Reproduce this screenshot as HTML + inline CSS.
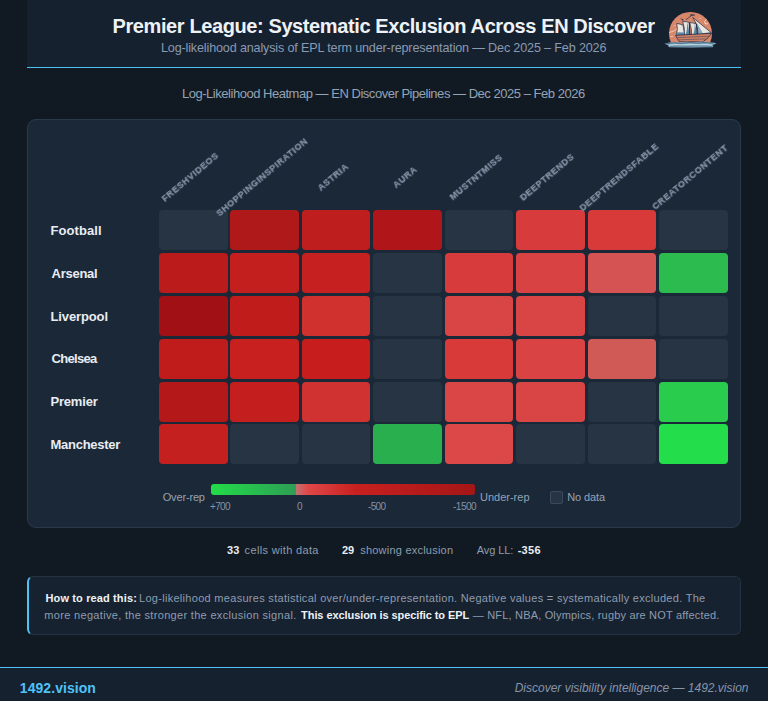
<!DOCTYPE html>
<html><head><meta charset="utf-8">
<style>
*{margin:0;padding:0;box-sizing:border-box}
html,body{width:768px;height:701px;overflow:hidden;background:#111a22;font-family:"Liberation Sans",sans-serif}
.t{position:absolute;white-space:nowrap;line-height:20px}
#hdr{position:absolute;left:27px;top:0;width:714px;height:68px;background:#162130;border-bottom:1.5px solid #4fc3f7}
#card{position:absolute;left:27px;top:119px;width:714px;height:409px;background:#1b2838;border:1px solid #2a394b;border-radius:9px}
.cl{position:absolute;width:200px;height:14px;line-height:14px;text-align:center;color:#8694a8;font-weight:bold;font-size:9px;letter-spacing:0.6px;transform:rotate(-40deg);white-space:nowrap;will-change:transform;-webkit-text-stroke:0.25px #8694a8}
.cell{position:absolute;height:40px;border-radius:4px}
#bar{position:absolute;left:211px;top:484px;width:264px;height:11px;border-radius:3px;background:linear-gradient(to right,#22dd48 0%,#2e9e55 32.1%,#c07474 32.1%,#e04848 36.5%,#c82020 55%,#a51616 100%)}
#chk{position:absolute;left:550px;top:491px;width:12.5px;height:12.5px;border-radius:2px;background:#263444;border:1px solid #3a4a5c}
#info{position:absolute;left:27px;top:576px;width:714px;height:59px;background:#172231;border:1px solid #243244;border-left:2px solid #4fc3f7;border-radius:6px}
#ftr{position:absolute;left:0;top:667px;width:768px;height:34px;background:#162130;border-top:1.5px solid #4fc3f7}
</style></head><body>
<div id="hdr"></div>
<div id="logo" style="position:absolute;left:662px;top:8px;width:56px;height:44px"><svg width="56" height="44" viewBox="0 0 56 44">
<defs><clipPath id="cc"><rect x="0" y="0" width="56" height="35"/></clipPath></defs>
<circle cx="28.5" cy="25.4" r="21.5" fill="#d8876b" clip-path="url(#cc)"/>
<path d="M7 24.5 L12 23 L15.5 20.5" stroke="#f0d8cc" stroke-width="0.8" fill="none"/>
<path d="M44.5 11.5 Q41.5 13 43 15.5 Q44.5 16.5 46 15.5" stroke="#f3e2d8" stroke-width="0.9" fill="none"/>
<circle cx="38" cy="10.3" r="0.55" fill="#f3e2d8"/>
<circle cx="13" cy="17.5" r="0.55" fill="#f3e2d8"/>
<path d="M8.5 28.5 L11 28.5" stroke="#f0d8cc" stroke-width="0.8"/>
<path d="M28 6.3 L32.8 6.5 L32.5 7.7 L28.3 7.6Z" fill="#2a3550"/>
<path d="M23.8 11.8 L30 7.2" stroke="#1e2a40" stroke-width="0.7"/>
<path d="M18 10.3 L21.6 11.4 L21 12.8 Z" fill="#1e2d48"/>
<path d="M14.8 15.4 Q18.5 16 21 17.2 L22.8 27.4 L14.3 27 Q16.2 21 14.8 15.4Z" fill="#e8e5de" stroke="#1e2d48" stroke-width="0.7"/>
<path d="M15.3 24.3 L22.3 24.5 L22.8 27.4 L14.3 27Z" fill="#5f8aa8"/>
<path d="M20.7 13.4 Q24.5 13.6 27.3 14.4 L27.8 28.2 L22.5 27.8 Q23 20 20.7 13.4Z" fill="#e8e5de" stroke="#1e2d48" stroke-width="0.7"/>
<path d="M25.3 14.2 Q27 21 27.8 28.2 L23.2 27.8 Q25.5 22 25.3 14.2Z" fill="#5b88a8"/>
<path d="M27.7 14.6 Q31.5 14.9 34.2 15.8 L35.5 27.6 L29.6 28.2 Q30 21 27.7 14.6Z" fill="#e8e5de" stroke="#1e2d48" stroke-width="0.7"/>
<path d="M32.5 15.5 Q34.5 21 35.5 27.6 L30.5 28 Q33.3 22 32.5 15.5Z" fill="#5b88a8"/>
<path d="M30.8 9.5 L49.2 24.7 L36.5 26.2 Q36.5 17 30.8 9.5Z" fill="#ebe8e2" stroke="#1e2d48" stroke-width="0.7"/>
<path d="M33.5 12.5 L41 25.6 L36.5 26.2 Q36.3 18 33.5 12.5Z" fill="#86a9c0"/>
<path d="M27.3 14.4 L27.8 28 M34.5 15.8 L35.3 27.5" stroke="#1a2540" stroke-width="0.8"/>
<path d="M13.6 27.3 L49.6 25.3 L46 29.8 L41 33.8 L17.5 33.8 L15 30Z" fill="#cf8166" stroke="#1a2540" stroke-width="0.75"/>
<path d="M15.5 29.6 L46.5 28.2 M17 31.8 L43.5 30.9" stroke="#3a3a55" stroke-width="0.5"/>
<path d="M2.5 35.8 Q9 33.4 16 34.4 Q24 33.2 32 34.2 Q40 33 47 34.2 Q51 34.2 54.5 35.3 L50.5 37.2 Q52 38.3 50.5 39.2 Q40 39 30 39.4 Q18 39.2 7.5 39.2 Q5.5 38.4 6.5 37.4 Z" fill="#88adc2"/>
<path d="M4.5 35.6 Q12 34.3 19 35.3 Q27 34.1 35 35.1 Q43 34.1 51 35.3" stroke="#2a4a66" stroke-width="0.7" fill="none"/>
<path d="M7 37.1 Q14 36.1 21 36.9 Q29 35.9 37 36.8 Q44 36.1 50 37" stroke="#c2dce9" stroke-width="0.9" fill="none"/>
<path d="M8 38.5 Q17 37.7 26 38.4 Q36 37.6 50 38.5" stroke="#3f6682" stroke-width="0.6" fill="none"/>
</svg>
</div>
<div id="card"></div>
<div class="cell" style="left:159px;top:210px;width:69px;background:#263444"></div>
<div class="cell" style="left:230px;top:210px;width:69px;background:#b0191a"></div>
<div class="cell" style="left:302px;top:210px;width:68px;background:#bf1e1e"></div>
<div class="cell" style="left:373px;top:210px;width:69px;background:#b01619"></div>
<div class="cell" style="left:445px;top:210px;width:68px;background:#263444"></div>
<div class="cell" style="left:516px;top:210px;width:69px;background:#d83b3b"></div>
<div class="cell" style="left:588px;top:210px;width:68px;background:#d83a3a"></div>
<div class="cell" style="left:659px;top:210px;width:69px;background:#263444"></div>
<div class="cell" style="left:159px;top:253px;width:69px;background:#bb1b1b"></div>
<div class="cell" style="left:230px;top:253px;width:69px;background:#c41f1f"></div>
<div class="cell" style="left:302px;top:253px;width:68px;background:#c72020"></div>
<div class="cell" style="left:373px;top:253px;width:69px;background:#263444"></div>
<div class="cell" style="left:445px;top:253px;width:68px;background:#d83b3b"></div>
<div class="cell" style="left:516px;top:253px;width:69px;background:#d94242"></div>
<div class="cell" style="left:588px;top:253px;width:68px;background:#d55353"></div>
<div class="cell" style="left:659px;top:253px;width:69px;background:#2cbb4f"></div>
<div class="cell" style="left:159px;top:296px;width:69px;background:#a01014"></div>
<div class="cell" style="left:230px;top:296px;width:69px;background:#c01c1c"></div>
<div class="cell" style="left:302px;top:296px;width:68px;background:#d0302e"></div>
<div class="cell" style="left:373px;top:296px;width:69px;background:#263444"></div>
<div class="cell" style="left:445px;top:296px;width:68px;background:#d94444"></div>
<div class="cell" style="left:516px;top:296px;width:69px;background:#d94444"></div>
<div class="cell" style="left:588px;top:296px;width:68px;background:#263444"></div>
<div class="cell" style="left:659px;top:296px;width:69px;background:#263444"></div>
<div class="cell" style="left:159px;top:339px;width:69px;background:#c01c1c"></div>
<div class="cell" style="left:230px;top:339px;width:69px;background:#c81f1f"></div>
<div class="cell" style="left:302px;top:339px;width:68px;background:#c71d1d"></div>
<div class="cell" style="left:373px;top:339px;width:69px;background:#263444"></div>
<div class="cell" style="left:445px;top:339px;width:68px;background:#d83a3a"></div>
<div class="cell" style="left:516px;top:339px;width:69px;background:#d94343"></div>
<div class="cell" style="left:588px;top:339px;width:68px;background:#d05a56"></div>
<div class="cell" style="left:659px;top:339px;width:69px;background:#263444"></div>
<div class="cell" style="left:159px;top:382px;width:69px;background:#b41818"></div>
<div class="cell" style="left:230px;top:382px;width:69px;background:#c41e1e"></div>
<div class="cell" style="left:302px;top:382px;width:68px;background:#d03232"></div>
<div class="cell" style="left:373px;top:382px;width:69px;background:#263444"></div>
<div class="cell" style="left:445px;top:382px;width:68px;background:#da4646"></div>
<div class="cell" style="left:516px;top:382px;width:69px;background:#d94444"></div>
<div class="cell" style="left:588px;top:382px;width:68px;background:#263444"></div>
<div class="cell" style="left:659px;top:382px;width:69px;background:#2acc4e"></div>
<div class="cell" style="left:159px;top:424px;width:69px;background:#c52020"></div>
<div class="cell" style="left:230px;top:424px;width:69px;background:#263444"></div>
<div class="cell" style="left:302px;top:424px;width:68px;background:#263444"></div>
<div class="cell" style="left:373px;top:424px;width:69px;background:#2aaf4f"></div>
<div class="cell" style="left:445px;top:424px;width:68px;background:#dc4848"></div>
<div class="cell" style="left:516px;top:424px;width:69px;background:#263444"></div>
<div class="cell" style="left:588px;top:424px;width:68px;background:#263444"></div>
<div class="cell" style="left:659px;top:424px;width:69px;background:#24dd4a"></div>
<div class="cl" style="left:90.2px;top:170.3px">FRESHVIDEOS</div>
<div class="cl" style="left:161.6px;top:170.3px">SHOPPINGINSPIRATION</div>
<div class="cl" style="left:233.0px;top:170.3px">ASTRIA</div>
<div class="cl" style="left:304.5px;top:170.3px">AURA</div>
<div class="cl" style="left:375.9px;top:170.3px">MUSTNTMISS</div>
<div class="cl" style="left:447.3px;top:170.3px">DEEPTRENDS</div>
<div class="cl" style="left:518.8px;top:170.3px">DEEPTRENDSFABLE</div>
<div class="cl" style="left:590.2px;top:170.3px">CREATORCONTENT</div>
<div id="bar"></div>
<div id="chk"></div>
<div id="info"></div>
<div id="ftr"></div>
<div class="t" style="left:112.50px;top:15.80px;font-weight:bold;font-size:20px;color:#eef2f6;letter-spacing:-0.396px">Premier League: Systematic Exclusion Across EN Discover</div>
<div class="t" style="left:161.00px;top:37.70px;font-size:12.6px;color:#8a9ab0;letter-spacing:-0.155px">Log-likelihood analysis of EPL term under-representation — Dec 2025 – Feb 2026</div>
<div class="t" style="left:182.00px;top:84.00px;font-size:13px;color:#94a3b6;letter-spacing:-0.475px">Log-Likelihood Heatmap — EN Discover Pipelines — Dec 2025 – Feb 2026</div>
<div class="t" style="left:50.50px;top:220.80px;font-weight:bold;font-size:13px;color:#e9edf2;letter-spacing:0.071px">Football</div>
<div class="t" style="left:51.50px;top:263.80px;font-weight:bold;font-size:13px;color:#e9edf2;letter-spacing:-0.250px">Arsenal</div>
<div class="t" style="left:50.50px;top:306.60px;font-weight:bold;font-size:13px;color:#e9edf2;letter-spacing:-0.125px">Liverpool</div>
<div class="t" style="left:51.50px;top:349.40px;font-weight:bold;font-size:13px;color:#e9edf2;letter-spacing:-0.683px">Chelsea</div>
<div class="t" style="left:50.50px;top:392.40px;font-weight:bold;font-size:13px;color:#e9edf2;letter-spacing:-0.200px">Premier</div>
<div class="t" style="left:50.50px;top:434.80px;font-weight:bold;font-size:13px;color:#e9edf2;letter-spacing:-0.267px">Manchester</div>
<div class="t" style="left:162.70px;top:487.20px;font-size:11px;color:#94a3b6;letter-spacing:-0.157px">Over-rep</div>
<div class="t" style="left:480.00px;top:487.30px;font-size:11px;color:#94a3b6;letter-spacing:0.000px">Under-rep</div>
<div class="t" style="left:567.20px;top:487.30px;font-size:11px;color:#94a3b6;letter-spacing:-0.117px">No data</div>
<div class="t" style="left:210.00px;top:497.20px;font-size:10px;color:#8593a6;letter-spacing:-0.667px">+700</div>
<div class="t" style="left:297.00px;top:497.20px;font-size:10px;color:#8593a6;letter-spacing:0.000px">0</div>
<div class="t" style="left:368.00px;top:497.20px;font-size:10px;color:#8593a6;letter-spacing:-0.667px">-500</div>
<div class="t" style="left:453.00px;top:497.20px;font-size:10px;color:#8593a6;letter-spacing:-0.500px">-1500</div>
<div class="t" style="left:227.00px;top:540.00px;font-weight:bold;font-size:11px;color:#e9edf2;letter-spacing:0.200px">33</div>
<div class="t" style="left:244.60px;top:540.00px;font-size:11px;color:#8e9cae;letter-spacing:0.343px">cells with data</div>
<div class="t" style="left:342.00px;top:540.00px;font-weight:bold;font-size:11px;color:#e9edf2;letter-spacing:0.000px">29</div>
<div class="t" style="left:360.20px;top:540.00px;font-size:11px;color:#8e9cae;letter-spacing:0.225px">showing exclusion</div>
<div class="t" style="left:476.70px;top:540.00px;font-size:11px;color:#8e9cae;letter-spacing:-0.067px">Avg LL:</div>
<div class="t" style="left:517.70px;top:540.00px;font-weight:bold;font-size:11px;color:#e9edf2;letter-spacing:0.267px">-356</div>
<div class="t" style="left:45.50px;top:587.60px;font-weight:bold;font-size:11px;color:#eef2f6;letter-spacing:0.131px">How to read this:</div>
<div class="t" style="left:139.00px;top:587.60px;font-size:11px;color:#8e9cae;letter-spacing:0.294px">Log-likelihood measures statistical over/under-representation. Negative values = systematically excluded. The</div>
<div class="t" style="left:44.30px;top:605.20px;font-size:11px;color:#8e9cae;letter-spacing:0.319px">more negative, the stronger the exclusion signal.</div>
<div class="t" style="left:301.10px;top:605.20px;font-weight:bold;font-size:11px;color:#eef2f6;letter-spacing:-0.075px">This exclusion is specific to EPL</div>
<div class="t" style="left:472.80px;top:605.20px;font-size:11px;color:#8e9cae;letter-spacing:0.180px">— NFL, NBA, Olympics, rugby are NOT affected.</div>
<div class="t" style="left:19.80px;top:678.00px;font-weight:bold;font-size:14px;color:#4fc3f7;letter-spacing:0.060px">1492.vision</div>
<div class="t" style="left:514.70px;top:677.60px;font-style:italic;font-size:12px;color:#8694a8;letter-spacing:-0.007px">Discover visibility intelligence — 1492.vision</div>
</body></html>
